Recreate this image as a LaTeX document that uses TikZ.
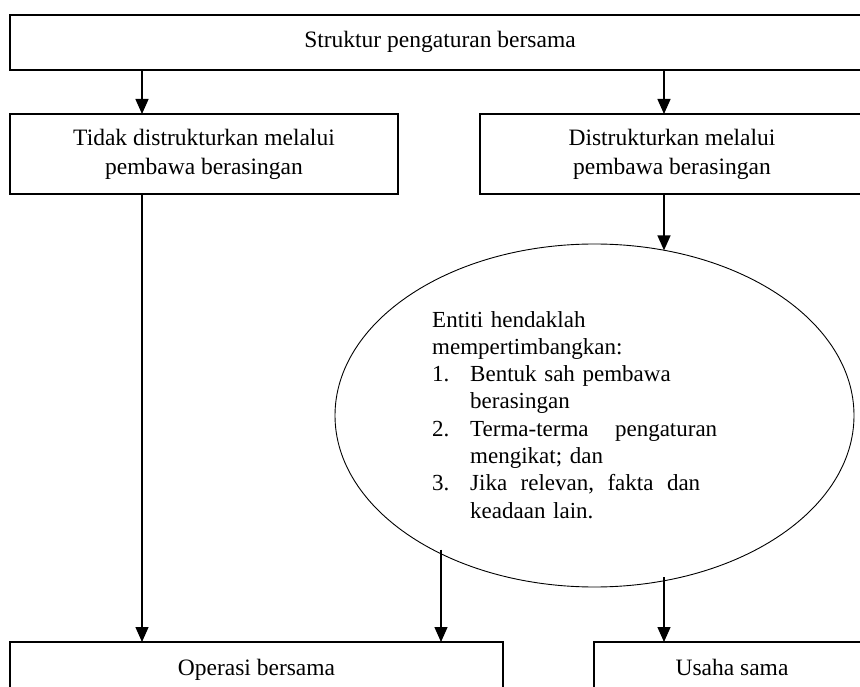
\documentclass[tikz,border=0pt]{standalone}
\usepackage{fontspec}
\setmainfont{Liberation Serif}
\usetikzlibrary{shapes.geometric,arrows.meta}
\begin{document}
\begin{tikzpicture}[x=1pt,y=-1pt,
  box/.style={draw, line width=1.3pt, rectangle, inner sep=0pt, outer sep=0pt, align=center, font=\fontsize{23.5}{29}\selectfont},
  onebox/.style={box, text height=16pt, text depth=5pt},
  arr/.style={line width=1.4pt, -{Triangle[length=15pt,width=13pt]}},
  ellbox/.style={ellipse, draw, line width=0.9pt, inner sep=0pt, outer sep=0pt},
  elltxt/.style={anchor=base west, text width=300pt, align=left, inner sep=0pt, font=\fontsize{23}{27.3}\selectfont}
  ]
\useasboundingbox (0,0) rectangle (860,687);
\clip (0,0) rectangle (860,687);
\node[onebox, minimum width=860pt, minimum height=55pt] (top) at (440,42.5) {Struktur pengaturan bersama};
\node[box, minimum width=388pt, minimum height=80pt] (left2) at (204,154) {Tidak distrukturkan melalui\\pembawa berasingan};
\node[box, minimum width=384pt, minimum height=80pt] (right2) at (672,154) {Distrukturkan melalui\\pembawa berasingan};
\node[ellbox, minimum width=519pt, minimum height=343pt] (ell) at (594.5,415.5) {};
\node[elltxt] (elltext) at (432,327) {Entiti hendaklah\\
mempertimbangkan:\\
\makebox[38pt][l]{1.}Bentuk sah pembawa\\
\hspace*{38pt}berasingan\\
\makebox[38pt][l]{2.}\makebox[247pt][l]{Terma-terma\hfill pengaturan}\\
\hspace*{38pt}mengikat; dan\\
\makebox[38pt][l]{3.}\makebox[230pt][l]{Jika\hfill relevan,\hfill fakta\hfill dan}\\
\hspace*{38pt}keadaan lain.};
\node[onebox, minimum width=493pt, minimum height=55pt] (op) at (256.5,669.5) {Operasi bersama};
\node[onebox, minimum width=276pt, minimum height=55pt] (us) at (732,669.5) {Usaha sama};
\coordinate (xl) at (142,0);
\coordinate (xr) at (664,0);
\coordinate (xm) at (441,0);
\coordinate (m1) at ([yshift=4pt]ell.222);
\coordinate (m2) at ([yshift=4pt]ell.292.8);
\draw[arr] (top.south -| xl) -- (left2.north -| xl);
\draw[arr] (top.south -| xr) -- (right2.north -| xr);
\draw[arr] (right2.south -| xr) -- (ell.67.2 -| xr);
\draw[arr] (left2.south -| xl) -- (op.north -| xl);
\draw[arr] (m1 -| xm) -- (op.north -| xm);
\draw[arr] (m2 -| xr) -- (us.north -| xr);
\end{tikzpicture}
\end{document}
